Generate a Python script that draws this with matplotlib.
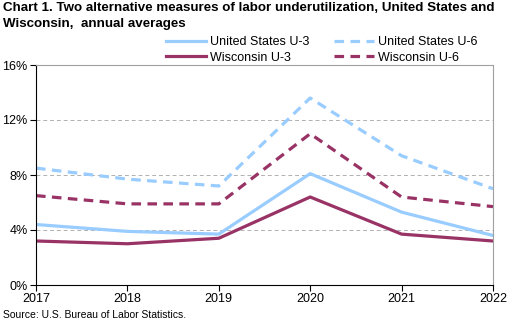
import matplotlib.pyplot as plt
from matplotlib.ticker import FuncFormatter

plt.rcParams['font.family'] = ['Liberation Sans', 'DejaVu Sans']

years = [2017, 2018, 2019, 2020, 2021, 2022]
us_u3 = [4.4, 3.9, 3.7, 8.1, 5.3, 3.6]
us_u6 = [8.5, 7.7, 7.2, 13.6, 9.4, 7.0]
wi_u3 = [3.2, 3.0, 3.4, 6.4, 3.7, 3.2]
wi_u6 = [6.5, 5.9, 5.9, 11.0, 6.4, 5.7]

blue = '#99ccff'
maroon = '#993366'

fig = plt.figure(figsize=(5.15, 3.23), dpi=100)
ax = fig.add_axes([36 / 515, 1 - 285 / 323, (493 - 36) / 515, (285 - 65) / 323])

ax.plot(years, us_u3, color=blue, lw=2.3, label='United States U-3')
ax.plot(years, us_u6, color=blue, lw=2.3, ls=(0, (3, 2)), label='United States U-6')
ax.plot(years, wi_u3, color=maroon, lw=2.3, label='Wisconsin U-3')
ax.plot(years, wi_u6, color=maroon, lw=2.3, ls=(0, (3, 2)), label='Wisconsin U-6')

ax.set_xlim(2017, 2022)
ax.set_ylim(0, 16)
ax.set_xticks(years)
ax.set_yticks([0, 4, 8, 12, 16])
ax.yaxis.set_major_formatter(FuncFormatter(lambda v, p: f'{v:.0f}%'))
ax.tick_params(labelsize=9, length=4, width=0.8, pad=2)
ax.grid(axis='y', ls=(0, (4, 3)), color='#b0b0b0', lw=0.7)
ax.set_axisbelow(True)
for side in ('top', 'right'):
    ax.spines[side].set_color('#a0a0a0')
for side in ('left', 'bottom'):
    ax.spines[side].set_color('black')

# legend sits above the plot, two columns
handles, labels = ax.get_legend_handles_labels()
order = [0, 2, 1, 3]
fig.legend([handles[i] for i in order], [labels[i] for i in order],
           ncol=2, loc='center', bbox_to_anchor=(322 / 515, 1 - 50 / 323),
           frameon=False, fontsize=9, handlelength=3.2, columnspacing=2.0,
           labelspacing=0.25, handletextpad=0.3)

fig.text(3 / 515, 1 - 2 / 323,
         'Chart 1. Two alternative measures of labor underutilization, United States and\nWisconsin,  annual averages',
         fontsize=9.6, fontweight='bold', va='top', linespacing=1.5)
fig.text(3 / 515, 1 - 315 / 323, 'Source: U.S. Bureau of Labor Statistics.',
         fontsize=7.5, va='center')

fig.savefig('out.png', dpi=100)
